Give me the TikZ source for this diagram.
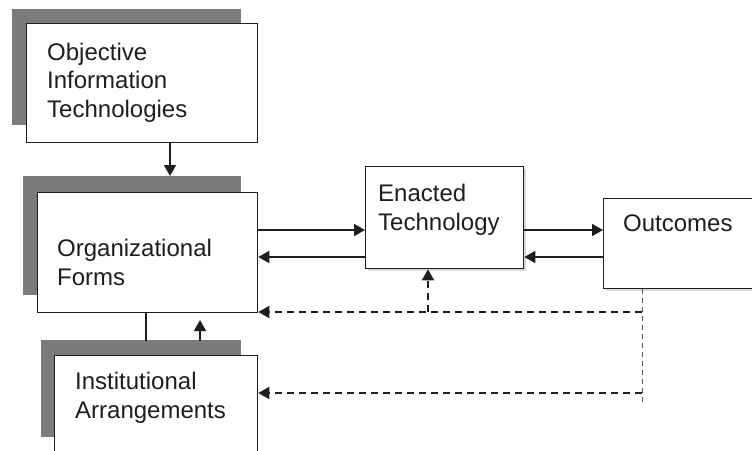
\documentclass[tikz,border=0pt]{standalone}
\usepackage{fontspec}
\setmainfont{Liberation Sans}
\usetikzlibrary{arrows.meta,shadows}
\definecolor{shadegray}{HTML}{7B7B7B}
\definecolor{inkgray}{HTML}{1E1E1E}
\begin{document}
\begin{tikzpicture}[x=1pt,y=-1pt,
    box/.style={draw=inkgray, line width=1.3pt, fill=white, anchor=north west, inner sep=0pt},
    lbl/.style={anchor=base west, inner sep=0pt, align=left, text=inkgray, font=\fontsize{24}{28.5}\selectfont},
    arr/.style={inkgray, line width=1.6pt, -{Triangle[length=11pt,width=12pt]}},
    dasharr/.style={arr, dash pattern=on 7pt off 5pt},
    tapline/.style={inkgray!75, line width=1pt, dash pattern=on 5pt off 4pt},
    soft/.style={drop shadow={shadow xshift=2.5pt, shadow yshift=-2.5pt, fill=black!30}}]
        \useasboundingbox (0,0) rectangle (752,450);
        % Gray back plates
        \fill[shadegray] (12,9) rectangle (241,125);
        \fill[shadegray] (23,176) rectangle (241,295);
        \fill[shadegray] (41,340) rectangle (241,437);
        % Boxes
        \node[box, minimum width=231pt, minimum height=119pt] (objit) at (26,23) {};
        \node[box, minimum width=220pt, minimum height=120pt] (orgform) at (37,192) {};
        \node[box, minimum width=203pt, minimum height=110pt] (instarr) at (54,355) {};
        \node[box, soft, minimum width=158pt, minimum height=102pt] (enacted) at (365,166) {};
        \node[box, soft, minimum width=170pt, minimum height=90pt] (outcomes) at (603,198) {};
        % Labels (anchored at the last line)
        \node[lbl] (objtxt) at (47,117) {Objective\\Information\\Technologies};
        \node[lbl] (orgtxt) at (57,285) {Organizational\\Forms};
        \node[lbl] (insttxt) at (75,418) {Institutional\\Arrangements};
        \node[lbl] (enacttxt) at (378,230) {Enacted\\Technology};
        \node[lbl] (outtxt) at (623,231) {Outcomes};
        % Rows and columns of the connectors
        \coordinate (rowA) at (0,230);
        \coordinate (rowB) at (0,257);
        \coordinate (rowC) at (0,312);
        \coordinate (rowD) at (0,393);
        \coordinate (drop) at (170,176);
        \coordinate (link) at (146,341);
        \coordinate (upfoot) at (200,341);
        \coordinate (uptip) at (200,320);
        \coordinate (rise) at (428,0);
        \coordinate (tap) at (642,0);
        \coordinate (tapend) at (642,402);
        % Solid connectors
        \draw[arr] (objit.south -| drop) -- (drop);
        \draw[inkgray, line width=1.3pt] (orgform.south -| link) -- (link);
        \draw[arr] (upfoot) -- (uptip);
        \draw[arr] (orgform.east |- rowA) -- (enacted.west |- rowA);
        \draw[arr] (enacted.west |- rowB) -- (orgform.east |- rowB);
        \draw[arr] (enacted.east |- rowA) -- (outcomes.west |- rowA);
        \draw[arr] (outcomes.west |- rowB) -- (enacted.east |- rowB);
        % Dashed feedback
        \draw[tapline] (outcomes.south -| tap) -- (tapend);
        \draw[dasharr] (tap |- rowC) -- (orgform.east |- rowC);
        \draw[dasharr] (tap |- rowD) -- (instarr.east |- rowD);
        \draw[dasharr] (rise |- rowC) -- (rise |- enacted.south);
\end{tikzpicture}
\end{document}
